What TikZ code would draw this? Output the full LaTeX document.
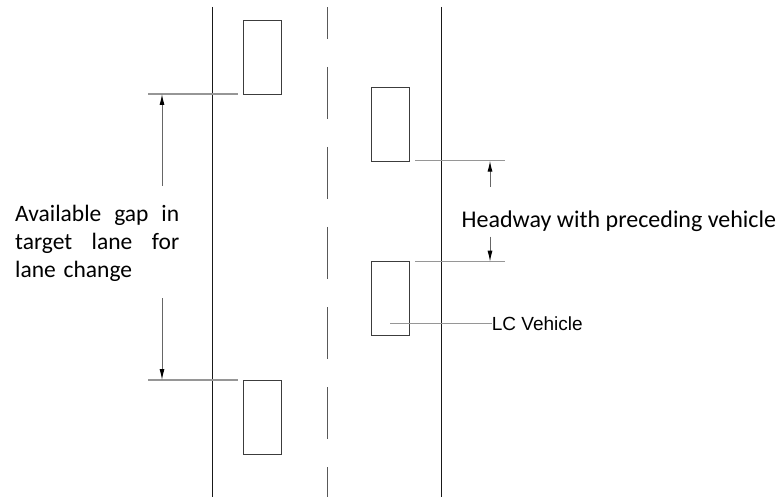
\documentclass[tikz,border=0pt]{standalone}
\usepackage{fontspec}
\setmainfont{Carlito}
\newfontfamily\arialfont{Liberation Sans}
\usetikzlibrary{arrows.meta, math}
\definecolor{dimgrey}{RGB}{150,150,150}
\definecolor{cargrey}{RGB}{60,60,60}
\tikzset{
  car/.style={draw=cargrey, line width=0.9pt, minimum width=38pt, minimum height=74pt, inner sep=0pt},
  lane/.style={line width=0.9pt, color=black!90},
  dimline/.style={line width=1.2pt, color=dimgrey},
  dimarrow/.style={line width=1pt, color=black!60, -{Latex[length=11pt,width=5pt,black]}},
  lbl/.style={inner sep=0pt, font=\fontsize{23.5}{28}\selectfont}
}

\begin{document}
\begin{tikzpicture}[x=1pt,y=-1pt]
\tikzmath{
\xL=212;
\xM=327.5;
\xR=441.5;
\yT=7;
\yB=497;
}
\useasboundingbox (0,0) rectangle (779,497);

% road
\draw[lane] (\xL,\yT) -- (\xL,\yB);
\draw[lane] (\xR,\yT) -- (\xR,\yB);
\draw[lane, line width=1.2pt, color=black!65, dash pattern=on 52pt off 28pt] (\xM,-13) -- (\xM,\yB);
\fill[white] (\xM-3,-20) rectangle (\xM+3,\yT);

% vehicles
\node[car] (carA) at (262.5,57) {};
\node[car] (carB) at (390.5,124) {};
\node[car] (carLC) at (390.5,298.5) {};
\node[car] (carD) at (262.5,417) {};

% gap in target lane
\coordinate (gT1) at (148,94);
\coordinate (gT2) at (238,94);
\coordinate (gB1) at (148,380);
\coordinate (gB2) at (238,380);
\draw[dimline] (gT1) -- (gT2);
\draw[dimline] (gB1) -- (gB2);
\coordinate (gU) at (162,186);
\coordinate (gD) at (162,298);
\draw[dimarrow] (gU) -- (gU |- gT1);
\draw[dimarrow] (gD) -- (gD |- gB1);

\node[lbl, anchor=base west, text width=164pt, align=left] (gap) at (15,221.7)
{\makebox[164pt]{Available\hfill gap\hfill in}\\\makebox[164pt]{target\hfill lane\hfill for}\\lane change};

% headway
\coordinate (hT1) at (415,160.7);
\coordinate (hT2) at (505,160.7);
\coordinate (hB1) at (415,261.7);
\coordinate (hB2) at (505,261.7);
\draw[dimline] (hT1) -- (hT2);
\draw[dimline] (hB1) -- (hB2);
\coordinate (hU) at (490,186.7);
\coordinate (hD) at (490,236.7);
\draw[dimarrow] (hU) -- (hU |- hT1);
\draw[dimarrow] (hD) -- (hD |- hB1);
\node[lbl, font=\fontsize{24}{28}\selectfont, anchor=base west] (headway) at (461.5,227.3) {Headway with preceding vehicle};

% lane changing vehicle
\coordinate (lc) at (390,323.3);
\node[inner sep=0pt, anchor=west, font=\arialfont\fontsize{19}{22}\selectfont] (lcv) at (491.7,323.3) {LC Vehicle};
\draw[dimline] (lc) -- (lcv.west);
\end{tikzpicture}
\end{document}
